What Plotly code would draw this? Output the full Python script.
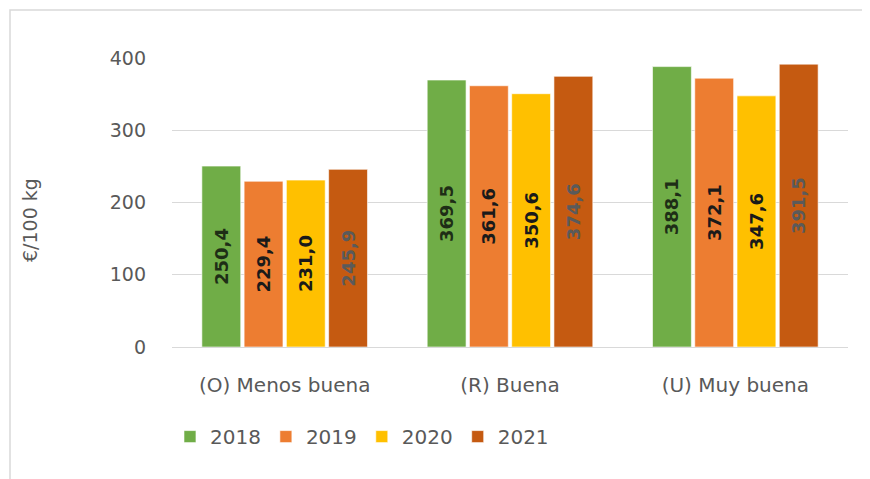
import plotly.graph_objects as go

categorias = ["(O) Menos buena", "(R) Buena", "(U) Muy buena"]
anios = ["2018", "2019", "2020", "2021"]
v_2018 = [250.4, 369.5, 388.1]
v_2019 = [229.4, 361.6, 372.1]
v_2020 = [231.0, 350.6, 347.6]
v_2021 = [245.9, 374.6, 391.5]

colores = ["#70AD47", "#ED7D31", "#FFC000", "#C55A11"]
color_texto = ["#1e2e16", "#1a1a1a", "#1a1a1a", "#5a5a5a"]
FUENTE = "DejaVu Sans"

fig = go.Figure()
for anio, valores, col, ctxt in zip(anios, [v_2018, v_2019, v_2020, v_2021], colores, color_texto):
    fig.add_trace(go.Bar(
        name=anio, x=categorias, y=valores,
        marker=dict(color=col, line=dict(color="rgba(255,255,255,0.6)", width=1)),
        texttemplate="%{y:.1f}", textposition="inside", insidetextanchor="middle",
        textangle=-90, textfont=dict(family=FUENTE, size=18, color=ctxt, weight="bold"),
        hoverinfo="skip",
    ))

# marco gris alrededor del grafico (el body tiene 8px de margen)
L, T, W, H = 164, 50, 676, 289
fig.add_shape(type="rect", xref="paper", yref="paper",
              x0=(2 - L) / W, x1=(880 - L) / W,
              y0=(T + H - 490) / H, y1=(T + H - 2) / H,
              line=dict(color="#d9d9d9", width=1.5), fillcolor="rgba(0,0,0,0)", layer="below")

# titulo del eje y
fig.add_annotation(text="€/100 kg", xref="paper", yref="paper",
                   x=(22 - L) / W, y=(T + H - 212) / H, showarrow=False, textangle=-90,
                   xanchor="center", yanchor="middle",
                   font=dict(family=FUENTE, size=19, color="#595959"))

fig.update_layout(
    width=870, height=479,
    margin=dict(l=L, r=870 - L - W, t=T, b=479 - T - H),
    paper_bgcolor="white", plot_bgcolor="white",
    font=dict(family=FUENTE, color="#595959", size=18),
    separators=", ",
    barmode="group", bargap=0.25, bargroupgap=0.08,
    showlegend=True,
    legend=dict(orientation="h", x=-0.003, xanchor="left", y=-0.31, yanchor="middle",
                font=dict(size=20, color="#595959"), itemwidth=30, traceorder="normal"),
    xaxis=dict(showgrid=False, showline=False, ticks="", ticklabelstandoff=24,
               tickfont=dict(size=20, color="#595959")),
    yaxis=dict(range=[0, 400], dtick=100, showgrid=True, gridcolor="#d9d9d9", gridwidth=1,
               zeroline=True, zerolinecolor="#d9d9d9", zerolinewidth=1, showline=False,
               ticklabelstandoff=25, tickfont=dict(size=19, color="#595959")),
)

fig.write_html("out.html")
